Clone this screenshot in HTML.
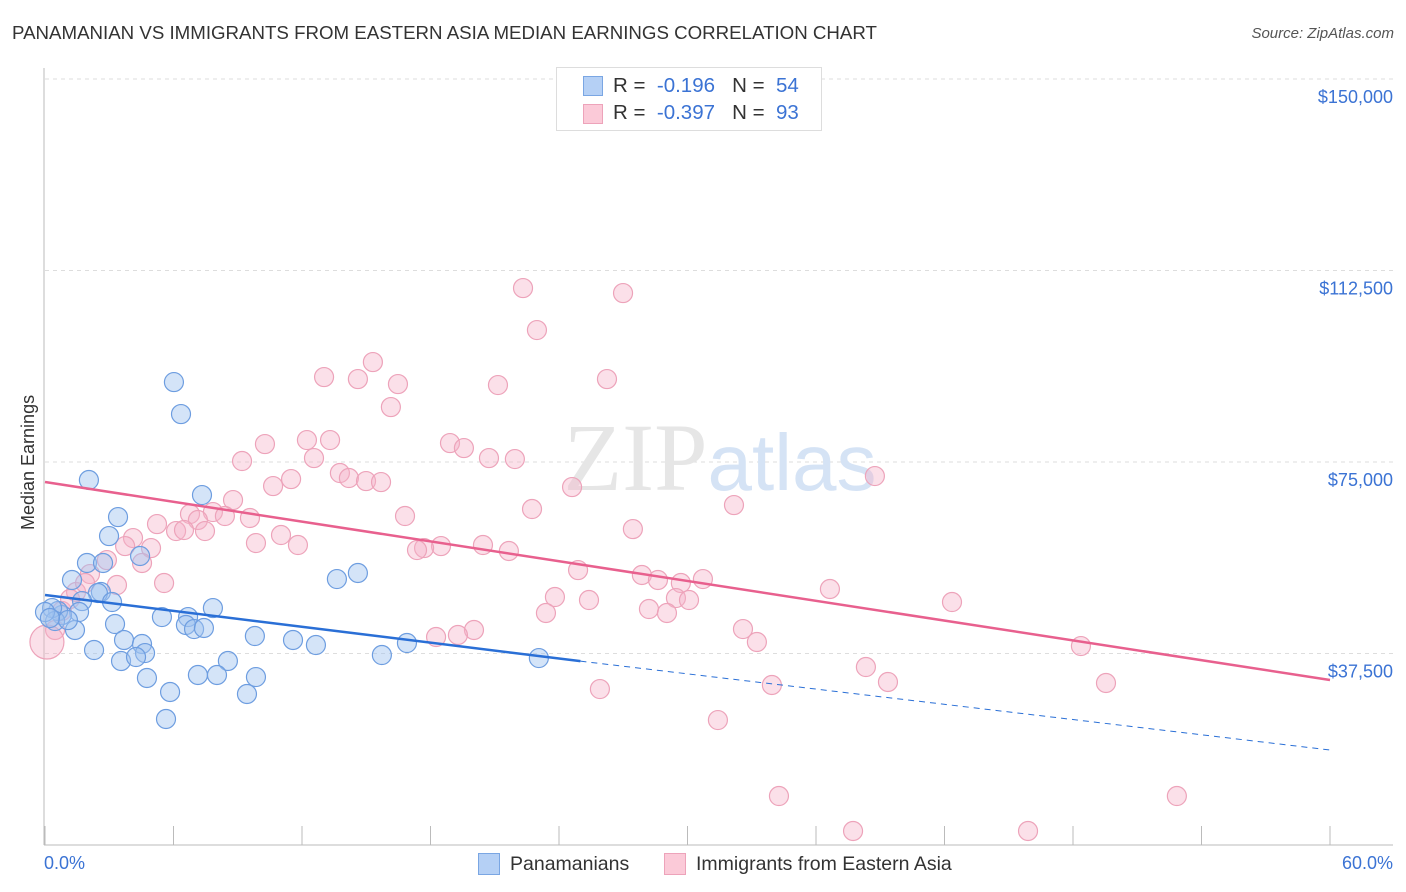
<!DOCTYPE html>
<html><head><meta charset="utf-8"><style>
body{margin:0;background:#fff;font-family:"Liberation Sans",sans-serif}
#c{position:relative;width:1406px;height:892px;overflow:hidden}
.t{position:absolute;white-space:nowrap}
</style></head><body>
<div id="c">
<div class="t" style="left:12px;top:22px;font-size:18.7px;color:#333">PANAMANIAN VS IMMIGRANTS FROM EASTERN ASIA MEDIAN EARNINGS CORRELATION CHART</div>
<div class="t" style="right:12px;top:25px;font-size:15px;color:#555;font-style:italic">Source: ZipAtlas.com</div>
<svg id="s" width="1406" height="892" style="position:absolute;left:0;top:0"></svg>
</div>
<script>
const yTicks=[37500,75000,112500,150000];
const yTickLabels=["$37,500","$75,000","$112,500","$150,000"];
const blueX=[6.02,6.35,2.05,7.33,3.41,2.99,4.44,1.96,2.71,1.26,2.61,2.47,1.73,3.13,1.59,7.84,6.68,5.46,3.27,6.58,6.96,7.42,1.40,0.79,0.61,0.33,0.47,1.07,3.69,4.53,9.80,11.58,12.65,4.67,2.29,3.55,4.25,8.54,15.73,16.90,23.06,13.63,14.61,7.14,8.03,9.85,4.76,5.84,9.43,5.65,0,0.23];
const blueY=[90650,84390,71470,68530,64220,60500,56590,55220,55220,51890,49540,49340,47770,47580,45620,46400,44640,44640,43270,43080,42290,42490,42100,45030,45820,46400,43860,44050,40140,39360,40920,40140,39160,37590,38180,36030,36810,36030,37200,39550,36610,52080,53260,33290,33290,32890,32700,29960,29570,24670,45620,44450];
const pinkX=[22.32,26.99,22.97,15.31,13.03,14.61,26.24,16.48,21.15,16.15,12.23,13.31,10.27,18.91,19.56,9.20,12.56,20.73,21.94,13.77,14.19,38.75,11.49,10.65,14.99,15.69,24.61,8.78,32.17,22.74,16.81,6.77,7.84,8.40,7.14,9.57,5.23,27.45,6.12,6.49,7.47,11.02,4.11,9.85,11.81,3.74,4.95,20.45,18.49,17.70,17.37,21.66,2.89,4.53,24.89,2.10,27.87,28.62,30.72,29.69,5.56,3.36,36.65,1.45,23.81,25.40,29.46,30.07,42.35,23.39,28.20,29.04,0.79,20.03,32.59,18.26,19.28,33.24,48.37,0.47,38.33,39.36,49.54,33.94,25.91,31.42,34.27,52.85,37.73,45.90,1.17,1.87,0.09];
const pinkY=[109060,108080,100840,94570,91630,91240,91240,90260,90070,85760,79300,79300,78510,78710,77730,75190,75770,75770,75580,72840,71860,72250,71660,70290,71270,71070,70090,67550,66570,65790,64420,64810,65200,64420,63640,64030,62850,61870,61480,61680,61480,60700,60110,59130,58740,58540,58150,58740,58540,58150,57760,57570,55800,55220,53840,53060,52870,51890,52080,51300,51300,50910,50130,49540,48560,47970,48360,47970,47580,45430,46210,45430,45820,42100,42290,40730,41120,39750,38960,42100,34850,31920,31720,31330,30540,24470,9590,9590,2740,2740,48170,51300,39750];
const blueTrend=[[0,48950],[25,36000],[60,18600]];
const pinkTrend=[[0,71080],[60,32310]];
const X=p=>45+p/60*1285, Y=v=>845-v/150000*766;
const s=document.getElementById('s');const N='http://www.w3.org/2000/svg';
function mk(t,a,name){const e=document.createElementNS(N,t);for(const k in a)e.setAttribute(k,a[k]);


s.appendChild(e);return e;}
yTicks.forEach((v,i)=>{mk('line',{x1:45,x2:1393,y1:Y(v),y2:Y(v),stroke:'#ddd','stroke-dasharray':'4,4'},'gridline');
const t=mk('text',{x:1393,y:Y(v)+24,'text-anchor':'end','font-size':18,fill:'#3b73d4','font-family':'Liberation Sans'},'y-tick-label');t.textContent=yTickLabels[i];});
mk('line',{x1:45,x2:1393,y1:Y(150000),y2:Y(150000),stroke:'#ddd','stroke-dasharray':'4,4'},'gridline-top');
mk('line',{x1:44,x2:44,y1:68,y2:845,stroke:'#bbb'},'y-axis');
mk('line',{x1:44,x2:1393,y1:845,y2:845,stroke:'#bbb'},'x-axis');
for(let i=0;i<=10;i++)mk('line',{x1:X(i*6),x2:X(i*6),y1:826,y2:845,stroke:'#bbb'},'x-tick');
const w=mk('text',{x:720,y:490,'text-anchor':'middle','font-size':96,fill:'#e6e6e6','font-family':'Liberation Serif'},'watermark');
w.innerHTML='ZIP<tspan fill="#d5e3f5" font-family="Liberation Sans" font-size="80">atlas</tspan>';
pinkX.forEach((x,i)=>{const big=(i==pinkX.length-1);mk('circle',{cx:X(x),cy:Y(pinkY[i]),r:big?17:9.5,fill:'rgba(246,178,200,0.4)',stroke:'#eda3ba','stroke-width':1.2},'pink-point');});
blueX.forEach((x,i)=>{mk('circle',{cx:X(x),cy:Y(blueY[i]),r:9.5,fill:'rgba(160,196,240,0.45)',stroke:'#6d9de0','stroke-width':1.2},'blue-point');});
mk('line',{x1:X(blueTrend[0][0]),y1:Y(blueTrend[0][1]),x2:X(blueTrend[1][0]),y2:Y(blueTrend[1][1]),stroke:'#2a6fd6','stroke-width':2.5},'blue-trend-line');
mk('line',{x1:X(blueTrend[1][0]),y1:Y(blueTrend[1][1]),x2:X(blueTrend[2][0]),y2:Y(blueTrend[2][1]),stroke:'#2a6fd6','stroke-width':1,'stroke-dasharray':'6,5'},'blue-trend-dashed');
mk('line',{x1:X(pinkTrend[0][0]),y1:Y(pinkTrend[0][1]),x2:X(pinkTrend[1][0]),y2:Y(pinkTrend[1][1]),stroke:'#e8608e','stroke-width':2.5},'pink-trend-line');
</script>
<div class="t" style="left:18px;top:530px;transform:rotate(-90deg);transform-origin:0 0;font-size:18px;color:#333">Median Earnings</div>
<div class="t" style="left:44px;top:853px;font-size:18px;color:#3b73d4">0.0%</div>
<div class="t" style="right:13px;top:853px;font-size:18px;color:#3b73d4">60.0%</div>
<div style="position:absolute;left:556px;top:67px;width:264px;height:62px;border:1px solid #ddd;background:#fff;font-size:20.5px;color:#333">
<div style="position:absolute;left:26px;top:8px;width:18px;height:18px;background:#b5d0f5;border:1px solid #7aa6e3"></div>
<div class="t" style="left:56px;top:6px">R = &nbsp;<span style="color:#3b73d4">-0.196</span> &nbsp;&nbsp;N = &nbsp;<span style="color:#3b73d4">54</span></div>
<div style="position:absolute;left:26px;top:36px;width:18px;height:18px;background:#fbcad8;border:1px solid #eda3ba"></div>
<div class="t" style="left:56px;top:33px">R = &nbsp;<span style="color:#3b73d4">-0.397</span> &nbsp;&nbsp;N = &nbsp;<span style="color:#3b73d4">93</span></div>
</div>
<div style="position:absolute;left:478px;top:853px;width:20px;height:20px;background:#b5d0f5;border:1px solid #7aa6e3"></div>
<div class="t" style="left:510px;top:853px;font-size:19.5px;color:#333">Panamanians</div>
<div style="position:absolute;left:664px;top:853px;width:20px;height:20px;background:#fbcad8;border:1px solid #eda3ba"></div>
<div class="t" style="left:696px;top:853px;font-size:19.5px;color:#333">Immigrants from Eastern Asia</div>
</body></html>
